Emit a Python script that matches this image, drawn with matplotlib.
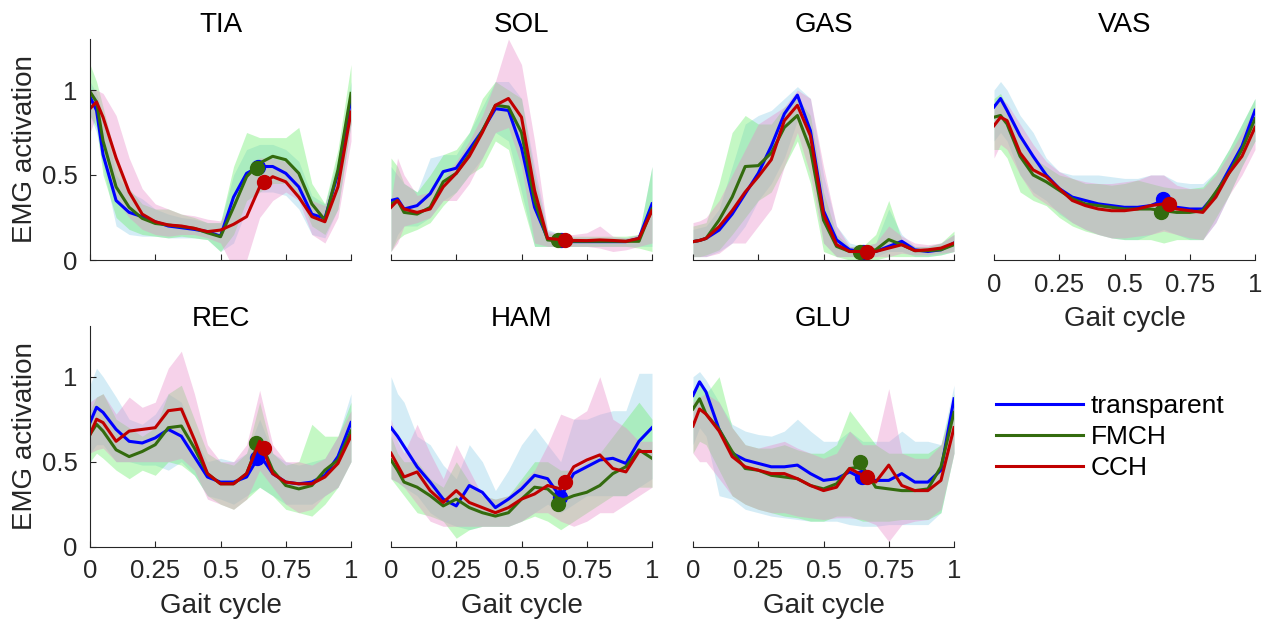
import numpy as np
import matplotlib
matplotlib.use('Agg')
import matplotlib.pyplot as plt
from matplotlib.lines import Line2D

plt.rcParams['font.family'] = ['Liberation Sans', 'DejaVu Sans']

# gait cycle sample points
GAIT = [0, 0.025, 0.05, 0.1, 0.15, 0.2, 0.25, 0.3, 0.35, 0.4, 0.45, 0.5,
        0.55, 0.6, 0.65, 0.7, 0.75, 0.8, 0.85, 0.9, 0.95, 1.0]
SERIES = ['transparent', 'FMCH', 'CCH']
LINE_COLORS = ['#0000ff', '#336b0e', '#c00000']
BAND_COLORS = ['#8ecfe8', '#66ee66', '#e88ac8']

# each block: rows = transparent, FMCH, CCH
TIA_MEAN = [[0.96, 0.88, 0.62, 0.35, 0.28, 0.255, 0.225, 0.20, 0.19, 0.18, 0.167, 0.14, 0.37, 0.51, 0.55, 0.55, 0.51, 0.43, 0.27, 0.245, 0.51, 0.95],
            [0.99, 0.93, 0.70, 0.43, 0.31, 0.245, 0.215, 0.206, 0.196, 0.186, 0.16, 0.137, 0.31, 0.49, 0.57, 0.61, 0.59, 0.51, 0.33, 0.235, 0.53, 0.98],
            [0.89, 0.93, 0.84, 0.60, 0.40, 0.27, 0.225, 0.206, 0.20, 0.186, 0.167, 0.176, 0.21, 0.255, 0.43, 0.49, 0.46, 0.37, 0.255, 0.225, 0.43, 0.87]]
TIA_LO = [[0.85, 0.75, 0.55, 0.20, 0.15, 0.14, 0.14, 0.13, 0.13, 0.13, 0.12, 0.05, 0.10, 0.30, 0.40, 0.40, 0.38, 0.30, 0.15, 0.13, 0.30, 0.80],
          [0.85, 0.78, 0.50, 0.25, 0.18, 0.15, 0.14, 0.13, 0.14, 0.13, 0.12, 0.05, 0.15, 0.35, 0.40, 0.45, 0.45, 0.38, 0.20, 0.15, 0.30, 0.80],
          [0.75, 0.85, 0.65, 0.35, 0.25, 0.18, 0.15, 0.14, 0.15, 0.15, 0.13, 0.10, -0.05, 0.00, 0.25, 0.35, 0.40, 0.35, 0.15, 0.10, 0.25, 0.70]]
TIA_HI = [[1.05, 0.98, 0.85, 0.50, 0.40, 0.36, 0.30, 0.27, 0.25, 0.24, 0.22, 0.22, 0.50, 0.65, 0.68, 0.68, 0.65, 0.58, 0.38, 0.33, 0.60, 1.05],
          [1.15, 1.05, 0.90, 0.60, 0.42, 0.33, 0.30, 0.30, 0.27, 0.25, 0.22, 0.22, 0.55, 0.75, 0.72, 0.72, 0.72, 0.78, 0.45, 0.33, 0.65, 1.15],
          [1.00, 1.00, 0.98, 0.85, 0.60, 0.42, 0.33, 0.30, 0.27, 0.26, 0.24, 0.23, 0.35, 0.50, 0.60, 0.60, 0.58, 0.50, 0.35, 0.32, 0.55, 0.98]]
TIA_MARK = [(0.645, 0.55), (0.64, 0.54), (0.667, 0.46)]

SOL_MEAN = [[0.35, 0.36, 0.30, 0.32, 0.39, 0.52, 0.54, 0.65, 0.76, 0.89, 0.88, 0.66, 0.31, 0.127, 0.108, 0.108, 0.108, 0.108, 0.108, 0.108, 0.127, 0.33],
            [0.33, 0.35, 0.28, 0.27, 0.31, 0.46, 0.51, 0.62, 0.76, 0.91, 0.90, 0.75, 0.35, 0.118, 0.11, 0.11, 0.11, 0.11, 0.11, 0.11, 0.11, 0.30],
            [0.31, 0.35, 0.30, 0.28, 0.30, 0.43, 0.51, 0.61, 0.75, 0.91, 0.95, 0.84, 0.41, 0.127, 0.12, 0.115, 0.114, 0.118, 0.115, 0.11, 0.127, 0.29]]
SOL_LO = [[0.05, 0.15, 0.20, 0.20, 0.25, 0.35, 0.40, 0.50, 0.60, 0.75, 0.70, 0.40, 0.08, 0.08, 0.08, 0.08, 0.08, 0.08, 0.08, 0.08, 0.08, 0.08],
          [0.05, 0.12, 0.15, 0.18, 0.22, 0.32, 0.40, 0.50, 0.55, 0.70, 0.65, 0.35, 0.08, 0.08, 0.08, 0.08, 0.08, 0.08, 0.08, 0.08, 0.07, 0.05],
          [0.05, 0.10, 0.20, 0.22, 0.25, 0.35, 0.35, 0.45, 0.60, 0.75, 0.78, 0.55, 0.10, 0.08, 0.08, 0.08, 0.08, 0.07, 0.05, 0.06, 0.08, 0.10]]
SOL_HI = [[0.55, 0.50, 0.45, 0.40, 0.60, 0.62, 0.62, 0.75, 0.90, 1.05, 1.05, 0.95, 0.55, 0.18, 0.15, 0.13, 0.13, 0.13, 0.13, 0.13, 0.15, 0.55],
          [0.60, 0.55, 0.45, 0.40, 0.50, 0.62, 0.65, 0.75, 0.95, 1.05, 1.00, 0.95, 0.50, 0.16, 0.14, 0.14, 0.14, 0.14, 0.14, 0.14, 0.15, 0.55],
          [0.35, 0.60, 0.50, 0.38, 0.40, 0.48, 0.58, 0.70, 0.85, 1.05, 1.30, 1.15, 0.70, 0.17, 0.15, 0.15, 0.16, 0.20, 0.14, 0.13, 0.15, 0.35]]
SOL_MARK = [(0.65, 0.12), (0.64, 0.12), (0.665, 0.12)]

GAS_MEAN = [[0.108, 0.115, 0.127, 0.176, 0.27, 0.39, 0.51, 0.67, 0.86, 0.97, 0.76, 0.29, 0.118, 0.06, 0.05, 0.05, 0.08, 0.11, 0.06, 0.05, 0.06, 0.10],
            [0.108, 0.115, 0.127, 0.235, 0.37, 0.55, 0.555, 0.63, 0.78, 0.85, 0.65, 0.235, 0.08, 0.05, 0.05, 0.06, 0.12, 0.09, 0.055, 0.055, 0.06, 0.09],
            [0.108, 0.115, 0.127, 0.196, 0.29, 0.40, 0.49, 0.59, 0.82, 0.91, 0.73, 0.27, 0.09, 0.05, 0.05, 0.05, 0.07, 0.09, 0.055, 0.06, 0.07, 0.10]]
GAS_LO = [[0.02, 0.02, 0.02, 0.05, 0.10, 0.20, 0.35, 0.45, 0.60, 0.82, 0.60, 0.10, 0.02, 0.02, 0.02, 0.02, 0.05, 0.05, 0.02, 0.02, 0.03, 0.05],
          [0.02, 0.02, 0.03, 0.06, 0.15, 0.25, 0.35, 0.40, 0.55, 0.70, 0.45, 0.05, 0.02, 0.00, 0.00, 0.00, 0.02, 0.02, 0.02, 0.02, 0.03, 0.05],
          [0.02, 0.02, 0.02, 0.04, 0.10, 0.10, 0.20, 0.30, 0.55, 0.75, 0.50, 0.10, 0.02, 0.02, 0.02, 0.02, 0.02, 0.04, 0.03, 0.03, 0.04, 0.05]]
GAS_HI = [[0.18, 0.19, 0.20, 0.30, 0.55, 0.80, 0.85, 0.88, 0.95, 1.02, 0.95, 0.50, 0.20, 0.10, 0.08, 0.10, 0.30, 0.15, 0.08, 0.08, 0.10, 0.15],
          [0.20, 0.21, 0.22, 0.45, 0.75, 0.85, 0.80, 0.80, 0.90, 0.95, 0.85, 0.40, 0.15, 0.08, 0.08, 0.15, 0.35, 0.12, 0.08, 0.08, 0.10, 0.17],
          [0.22, 0.23, 0.25, 0.35, 0.50, 0.65, 0.80, 0.85, 0.90, 1.00, 0.95, 0.55, 0.20, 0.08, 0.08, 0.10, 0.20, 0.14, 0.10, 0.09, 0.10, 0.15]]
GAS_MARK = [(0.65, 0.05), (0.64, 0.05), (0.666, 0.05)]

VAS_MEAN = [[0.90, 0.95, 0.88, 0.73, 0.61, 0.50, 0.42, 0.37, 0.35, 0.33, 0.32, 0.31, 0.31, 0.32, 0.35, 0.31, 0.30, 0.30, 0.39, 0.53, 0.67, 0.88],
            [0.84, 0.85, 0.80, 0.61, 0.50, 0.46, 0.41, 0.36, 0.33, 0.32, 0.31, 0.30, 0.30, 0.30, 0.29, 0.28, 0.28, 0.29, 0.40, 0.51, 0.65, 0.83],
            [0.79, 0.84, 0.82, 0.63, 0.53, 0.49, 0.42, 0.35, 0.32, 0.30, 0.29, 0.29, 0.30, 0.32, 0.33, 0.30, 0.29, 0.28, 0.37, 0.51, 0.61, 0.78]]
VAS_LO = [[0.70, 0.75, 0.70, 0.50, 0.40, 0.35, 0.27, 0.22, 0.18, 0.15, 0.13, 0.12, 0.12, 0.15, 0.18, 0.15, 0.12, 0.12, 0.22, 0.38, 0.55, 0.70],
          [0.65, 0.65, 0.60, 0.40, 0.35, 0.32, 0.25, 0.20, 0.17, 0.15, 0.13, 0.12, 0.12, 0.12, 0.10, 0.12, 0.12, 0.12, 0.25, 0.38, 0.55, 0.70],
          [0.60, 0.68, 0.65, 0.50, 0.38, 0.33, 0.28, 0.22, 0.18, 0.15, 0.13, 0.13, 0.14, 0.15, 0.17, 0.15, 0.13, 0.12, 0.22, 0.38, 0.50, 0.65]]
VAS_HI = [[1.00, 1.05, 1.00, 0.85, 0.75, 0.60, 0.52, 0.50, 0.50, 0.50, 0.49, 0.48, 0.48, 0.50, 0.50, 0.46, 0.45, 0.45, 0.52, 0.65, 0.80, 0.95],
          [0.95, 0.98, 0.90, 0.75, 0.60, 0.55, 0.50, 0.48, 0.45, 0.45, 0.44, 0.45, 0.47, 0.45, 0.43, 0.42, 0.42, 0.43, 0.52, 0.65, 0.80, 0.95],
          [0.90, 0.95, 0.92, 0.80, 0.68, 0.58, 0.52, 0.48, 0.46, 0.45, 0.45, 0.46, 0.47, 0.50, 0.50, 0.44, 0.42, 0.42, 0.50, 0.62, 0.75, 0.90]]
VAS_MARK = [(0.647, 0.357), (0.64, 0.285), (0.67, 0.33)]

REC_MEAN = [[0.73, 0.82, 0.79, 0.69, 0.62, 0.61, 0.64, 0.69, 0.65, 0.53, 0.41, 0.38, 0.38, 0.41, 0.54, 0.43, 0.38, 0.37, 0.38, 0.42, 0.53, 0.73],
            [0.66, 0.72, 0.68, 0.57, 0.53, 0.56, 0.60, 0.70, 0.71, 0.58, 0.43, 0.37, 0.37, 0.43, 0.63, 0.45, 0.36, 0.34, 0.36, 0.45, 0.51, 0.68],
            [0.66, 0.75, 0.73, 0.62, 0.68, 0.69, 0.70, 0.80, 0.81, 0.63, 0.43, 0.37, 0.37, 0.43, 0.62, 0.43, 0.38, 0.37, 0.37, 0.41, 0.49, 0.65]]
REC_LO = [[0.55, 0.60, 0.60, 0.50, 0.50, 0.48, 0.48, 0.45, 0.50, 0.42, 0.30, 0.28, 0.25, 0.30, 0.35, 0.30, 0.25, 0.25, 0.25, 0.30, 0.35, 0.50],
          [0.50, 0.55, 0.52, 0.45, 0.40, 0.45, 0.42, 0.50, 0.48, 0.42, 0.30, 0.25, 0.22, 0.28, 0.35, 0.30, 0.22, 0.20, 0.18, 0.25, 0.35, 0.50],
          [0.55, 0.57, 0.58, 0.50, 0.50, 0.50, 0.50, 0.50, 0.52, 0.45, 0.28, 0.25, 0.22, 0.28, 0.45, 0.35, 0.25, 0.20, 0.22, 0.30, 0.35, 0.50]]
REC_HI = [[0.95, 1.05, 1.00, 0.88, 0.75, 0.72, 0.78, 0.90, 0.85, 0.65, 0.50, 0.52, 0.50, 0.55, 0.75, 0.55, 0.50, 0.48, 0.50, 0.52, 0.65, 0.90],
          [0.80, 0.88, 0.90, 0.75, 0.70, 0.65, 0.70, 0.90, 0.95, 0.75, 0.55, 0.50, 0.48, 0.55, 0.85, 0.55, 0.48, 0.50, 0.72, 0.65, 0.65, 0.85],
          [0.85, 0.88, 0.90, 0.78, 0.88, 0.82, 0.85, 1.05, 1.15, 0.90, 0.60, 0.50, 0.50, 0.60, 0.92, 0.60, 0.50, 0.50, 0.48, 0.52, 0.65, 0.80]]
REC_MARK = [(0.64, 0.52), (0.635, 0.61), (0.667, 0.58)]

HAM_MEAN = [[0.70, 0.65, 0.59, 0.47, 0.38, 0.28, 0.24, 0.36, 0.32, 0.23, 0.28, 0.34, 0.42, 0.40, 0.29, 0.43, 0.47, 0.51, 0.52, 0.49, 0.62, 0.70],
            [0.51, 0.45, 0.38, 0.35, 0.30, 0.24, 0.28, 0.23, 0.20, 0.18, 0.20, 0.28, 0.35, 0.34, 0.27, 0.30, 0.32, 0.36, 0.43, 0.47, 0.57, 0.52],
            [0.55, 0.48, 0.41, 0.44, 0.33, 0.26, 0.33, 0.26, 0.23, 0.20, 0.23, 0.28, 0.31, 0.36, 0.34, 0.47, 0.51, 0.54, 0.46, 0.44, 0.56, 0.56]]
HAM_LO = [[0.40, 0.38, 0.35, 0.30, 0.20, 0.15, 0.12, 0.10, 0.12, 0.12, 0.12, 0.15, 0.20, 0.25, 0.20, 0.25, 0.30, 0.30, 0.30, 0.30, 0.35, 0.40],
          [0.40, 0.35, 0.30, 0.20, 0.18, 0.15, 0.05, 0.10, 0.12, 0.12, 0.12, 0.15, 0.18, 0.15, 0.10, 0.15, 0.20, 0.25, 0.30, 0.30, 0.35, 0.35],
          [0.40, 0.38, 0.35, 0.25, 0.15, 0.12, 0.12, 0.12, 0.12, 0.12, 0.12, 0.15, 0.20, 0.20, 0.15, 0.12, 0.15, 0.20, 0.20, 0.25, 0.30, 0.35]]
HAM_HI = [[1.00, 0.90, 0.85, 0.65, 0.60, 0.48, 0.40, 0.60, 0.50, 0.33, 0.45, 0.60, 0.70, 0.60, 0.50, 0.75, 0.75, 0.78, 0.80, 0.80, 1.02, 1.02],
          [0.65, 0.55, 0.50, 0.50, 0.40, 0.35, 0.50, 0.38, 0.30, 0.28, 0.30, 0.40, 0.50, 0.50, 0.45, 0.45, 0.50, 0.55, 0.65, 0.75, 0.85, 0.75],
          [0.75, 0.62, 0.55, 0.72, 0.55, 0.40, 0.60, 0.45, 0.30, 0.28, 0.30, 0.38, 0.45, 0.60, 0.78, 0.75, 0.80, 1.00, 0.75, 0.70, 0.62, 0.62]]
HAM_MARK = [(0.648, 0.295), (0.64, 0.25), (0.665, 0.38)]

GLU_MEAN = [[0.89, 0.97, 0.91, 0.69, 0.55, 0.51, 0.49, 0.47, 0.47, 0.48, 0.43, 0.39, 0.40, 0.44, 0.40, 0.39, 0.39, 0.43, 0.38, 0.38, 0.45, 0.87],
            [0.81, 0.87, 0.78, 0.69, 0.56, 0.46, 0.45, 0.42, 0.41, 0.40, 0.36, 0.34, 0.37, 0.46, 0.47, 0.35, 0.34, 0.33, 0.33, 0.34, 0.47, 0.79],
            [0.71, 0.81, 0.78, 0.68, 0.53, 0.47, 0.45, 0.43, 0.43, 0.40, 0.36, 0.33, 0.35, 0.46, 0.42, 0.38, 0.48, 0.36, 0.33, 0.33, 0.39, 0.70]]
GLU_LO = [[0.60, 0.70, 0.65, 0.30, 0.28, 0.22, 0.20, 0.18, 0.17, 0.16, 0.15, 0.15, 0.15, 0.13, 0.12, 0.12, 0.13, 0.13, 0.13, 0.13, 0.20, 0.55],
          [0.55, 0.62, 0.60, 0.45, 0.30, 0.25, 0.22, 0.20, 0.18, 0.17, 0.15, 0.15, 0.18, 0.18, 0.15, 0.15, 0.15, 0.16, 0.16, 0.16, 0.20, 0.55],
          [0.55, 0.50, 0.50, 0.40, 0.30, 0.25, 0.22, 0.20, 0.20, 0.18, 0.17, 0.16, 0.17, 0.17, 0.16, 0.13, 0.03, 0.13, 0.15, 0.16, 0.22, 0.55]]
GLU_HI = [[1.00, 1.03, 0.98, 0.85, 0.72, 0.68, 0.66, 0.65, 0.68, 0.75, 0.68, 0.62, 0.62, 0.68, 0.62, 0.62, 0.62, 0.68, 0.62, 0.62, 0.60, 0.95],
          [0.92, 0.95, 0.90, 1.00, 0.70, 0.60, 0.58, 0.58, 0.60, 0.57, 0.55, 0.55, 0.60, 0.80, 0.70, 0.60, 0.55, 0.55, 0.55, 0.55, 0.60, 0.90],
          [0.85, 0.88, 0.90, 0.85, 0.70, 0.60, 0.58, 0.60, 0.62, 0.58, 0.55, 0.52, 0.55, 0.68, 0.60, 0.60, 0.93, 0.55, 0.52, 0.52, 0.60, 0.85]]
GLU_MARK = [(0.647, 0.41), (0.64, 0.50), (0.668, 0.41)]

PANELS = [
    ('TIA', TIA_MEAN, TIA_LO, TIA_HI, TIA_MARK),
    ('SOL', SOL_MEAN, SOL_LO, SOL_HI, SOL_MARK),
    ('GAS', GAS_MEAN, GAS_LO, GAS_HI, GAS_MARK),
    ('VAS', VAS_MEAN, VAS_LO, VAS_HI, VAS_MARK),
    ('REC', REC_MEAN, REC_LO, REC_HI, REC_MARK),
    ('HAM', HAM_MEAN, HAM_LO, HAM_HI, HAM_MARK),
    ('GLU', GLU_MEAN, GLU_LO, GLU_HI, GLU_MARK),
]

AX_GRAY = '#262626'
W, H = 1271.0, 620.0
COL_LEFT = [90, 391, 693, 994]
ROW_BOTTOM = [260, 546.7]
AX_W, AX_H = 261, 221

fig = plt.figure(figsize=(12.71, 6.2), dpi=100)

x = np.array(GAIT)
for i, (name, mean, lo, hi, mark) in enumerate(PANELS):
    row, col = divmod(i, 4)
    ax = fig.add_axes([COL_LEFT[col] / W, (H - ROW_BOTTOM[row]) / H, AX_W / W, AX_H / H])
    for k in range(3):
        ax.fill_between(x, lo[k], hi[k], color=BAND_COLORS[k], alpha=0.38, lw=0)
    for k in range(3):
        ax.plot(x, mean[k], color=LINE_COLORS[k], lw=2.2)
        ax.plot(mark[k][0], mark[k][1], 'o', color=LINE_COLORS[k], ms=10)
    ax.set_xlim(0, 1)
    ax.set_ylim(0, 1.3)
    if row == 0:
        ax.set_title(name, fontsize=20, pad=5)
    else:
        # fixed y so the bottom row titles sit right on the axes top
        ax.set_title(name, fontsize=20, y=1.0, pad=0)
    for s in ['top', 'right']:
        ax.spines[s].set_visible(False)
    ax.spines['bottom'].set_color(AX_GRAY)
    ax.spines['left'].set_color(AX_GRAY)
    ax.set_xticks([0, 0.25, 0.5, 0.75, 1])
    ax.tick_params(direction='in', colors=AX_GRAY, labelsize=18.5, length=4, width=0.8, pad=9)
    if col == 0:
        ax.set_yticks([0, 0.5, 1])
        ax.set_yticklabels(['0', '0.5', '1'])
        ax.set_ylabel('EMG activation', fontsize=20, color=AX_GRAY)
        ax.yaxis.set_label_coords(-0.2, 0.5)
    else:
        ax.spines['left'].set_visible(False)
        ax.set_yticks([])
    if row == 1 or name == 'VAS':
        ax.set_xticklabels(['0', '0.25', '0.5', '0.75', '1'])
        ax.set_xlabel('Gait cycle', fontsize=20, color=AX_GRAY, labelpad=7)
    else:
        ax.set_xticklabels([])

handles = [Line2D([], [], color=c, lw=2.2) for c in LINE_COLORS]
fig.legend(handles, SERIES, loc='center left', bbox_to_anchor=(996 / W, 1 - 437 / H),
           frameon=False, fontsize=19, handlelength=3.3, handletextpad=0.3,
           labelspacing=0.27, borderpad=0, borderaxespad=0)

fig.savefig('out.png', dpi=100)
